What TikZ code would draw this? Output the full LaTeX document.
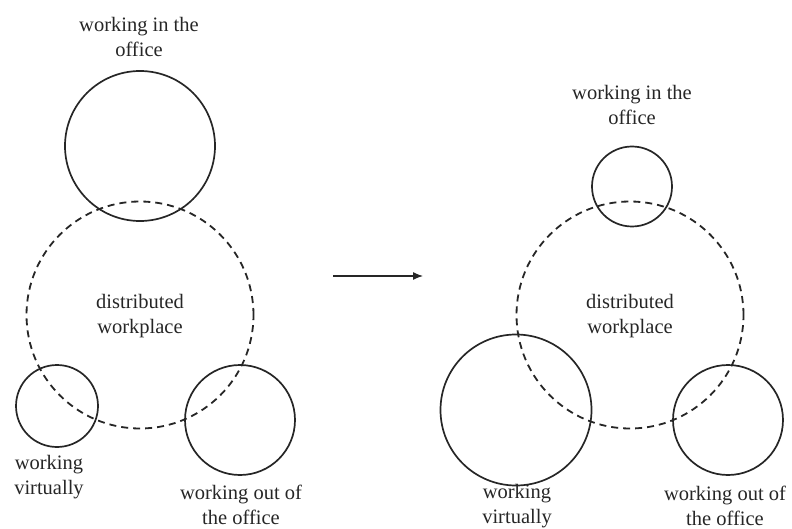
\documentclass[tikz,border=0pt]{standalone}
\usepackage{fontspec}
\setmainfont{Liberation Serif}
\usetikzlibrary{arrows.meta}
\begin{document}
\begin{tikzpicture}[x=1pt,y=-1pt,
  solidc/.style={draw=black!85, line width=1.7pt},
  dashc/.style={draw=black!85, line width=1.8pt, dash pattern=on 7pt off 5pt},
  lbl/.style={align=center, font=\fontsize{20.5}{24.5}\selectfont, text=black!85, inner sep=0pt},
  flow/.style={draw=black!85, line width=1.3pt, -{Latex[length=10pt,width=8pt]}}]
\useasboundingbox (0,0) rectangle (792,529);
% left diagram
\node[solidc, circle, minimum size=150pt, inner sep=0pt] (Loff) at (140,146) {};
\node[dashc, circle, minimum size=227pt, inner sep=0pt] (Ldist) at (140,315) {};
\node[solidc, circle, minimum size=82pt, inner sep=0pt] (Lvirt) at (57,406) {};
\node[solidc, circle, minimum size=110pt, inner sep=0pt] (Lout) at (240,420) {};
\node[lbl] (LoffT) at (139,37) {working in the\\office};
\node[lbl] (LdistT) at (140,316) {distributed\\workplace};
\node[lbl] (LvirtT) at (49,477) {working\\virtually};
\node[lbl] (LoutT) at (241,505) {working out of\\the office};
% arrow
\coordinate (A1) at (333,276);
\coordinate (A2) at (423,276);
\draw[flow] (A1) -- (A2);
% right diagram
\node[solidc, circle, minimum size=80pt, inner sep=0pt] (Roff) at (632,186.5) {};
\node[dashc, circle, minimum size=227pt, inner sep=0pt] (Rdist) at (630,315) {};
\node[solidc, circle, minimum size=151pt, inner sep=0pt] (Rvirt) at (516,410) {};
\node[solidc, circle, minimum size=110pt, inner sep=0pt] (Rout) at (728,420) {};
\node[lbl] (RoffT) at (632,105) {working in the\\office};
\node[lbl] (RdistT) at (630,316) {distributed\\workplace};
\node[lbl] (RvirtT) at (517,506) {working\\virtually};
\node[lbl] (RoutT) at (725,506) {working out of\\the office};
\end{tikzpicture}
\end{document}
